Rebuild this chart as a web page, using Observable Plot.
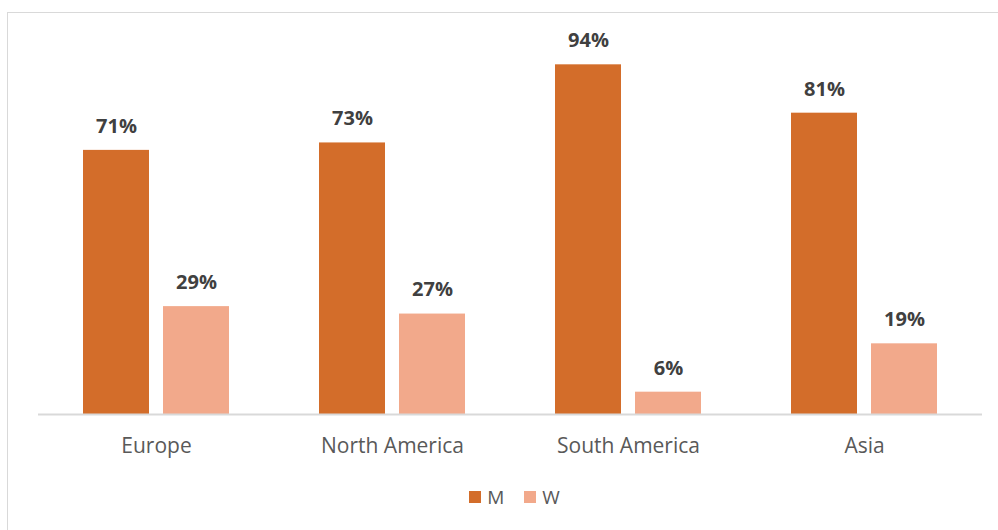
<!DOCTYPE html>
<html>
<head>
<meta charset="utf-8">
<script src="https://cdn.jsdelivr.net/npm/d3@7"></script>
<script src="https://cdn.jsdelivr.net/npm/@observablehq/plot@0.6"></script>
<style>
  html, body { margin: 0; padding: 0; background: #fff; width: 998px; height: 530px; overflow: hidden; }
  body { position: relative; font-family: "Open Sans", sans-serif; }
  .frame { position: absolute; left: 7px; top: 12px; width: 1010px; height: 540px; border: 1px solid #d9d9d9; box-sizing: border-box; }
  #chart { position: absolute; left: 0; top: 0; }
  .legend { position: absolute; left: 0; top: 484px; width: 1029px; display: flex; justify-content: center; align-items: center; font-size: 19px; color: #595959; gap: 20px; }
  .legend .item { display: flex; align-items: center; gap: 6px; }
  .legend .sw { width: 12px; height: 12px; display: inline-block; }
</style>
</head>
<body>
<div class="frame"></div>
<div id="chart"></div>
<div class="legend" id="legend"></div>
<script>
const regions = ["Europe", "North America", "South America", "Asia"];
const series = ["M", "W"];
const menShare = [71, 73, 94, 81];
const womenShare = [29, 27, 6, 19];
const seriesColors = ["#D36D2A", "#F2A98B"];

const rows = [];
regions.forEach((r, i) => {
  rows.push({region: r, series: "M", value: menShare[i]});
  rows.push({region: r, series: "W", value: womenShare[i]});
});

const chart = Plot.plot({
  width: 998,
  height: 470,
  marginLeft: 36,
  marginRight: 15,
  marginTop: 42,
  marginBottom: 56,
  style: {fontFamily: "Open Sans, sans-serif", background: "transparent", overflow: "visible"},
  fx: {domain: regions, padding: 0, label: null, axis: null},
  x: {domain: series, paddingInner: 0.173, paddingOuter: 0.548, axis: null, label: null},
  y: {domain: [0, 100], axis: null},
  color: {domain: series, range: seriesColors},
  marks: [
    Plot.barY(rows, {fx: "region", x: "series", y: "value", fill: "series"}),
    Plot.ruleY([0], {stroke: "#d9d9d9", strokeWidth: 2}),
    Plot.text(rows, {fx: "region", x: "series", y: "value", text: d => d.value + "%", dy: -24, fill: "#404040", fontWeight: "bold", fontSize: 20}),
    Plot.axisFx({anchor: "bottom", tickSize: 0, tickPadding: 24, fontSize: 21, color: "#595959", label: null})
  ]
});
document.getElementById("chart").appendChild(chart);

const legend = document.getElementById("legend");
series.forEach((s, i) => {
  const item = document.createElement("div");
  item.className = "item";
  const sw = document.createElement("span");
  sw.className = "sw";
  sw.style.background = seriesColors[i];
  const lab = document.createElement("span");
  lab.textContent = s;
  item.appendChild(sw);
  item.appendChild(lab);
  legend.appendChild(item);
});
</script>
</body>
</html>
